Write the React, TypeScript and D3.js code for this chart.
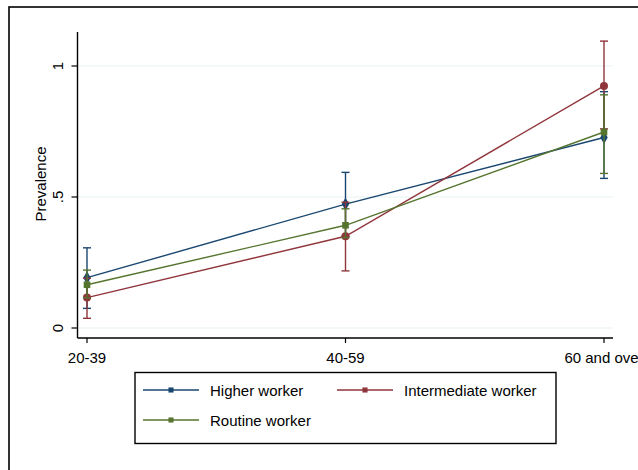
import React from "react";
import * as d3 from "d3";

// Age groups on the x axis
const categories = ["20-39", "40-59", "60 and over"];

// Prevalence estimates with confidence limits, one set per worker class
const higherEst = [0.192, 0.473, 0.727];
const higherLo = [0.075, 0.35, 0.571];
const higherHi = [0.306, 0.594, 0.902];

const intermediateEst = [0.116, 0.35, 0.924];
const intermediateLo = [0.037, 0.218, 0.76];
const intermediateHi = [0.19, 0.48, 1.095];

const routineEst = [0.165, 0.392, 0.748];
const routineLo = [0.115, 0.345, 0.59];
const routineHi = [0.221, 0.455, 0.89];

const yTicks = [0, 0.5, 1];
const yTickLabels = ["0", ".5", "1"];

const seriesNames = ["Higher worker", "Intermediate worker", "Routine worker"];

type Series = {
  name: string;
  est: number[];
  lo: number[];
  hi: number[];
  color: string;
  symbol: d3.SymbolType;
  size: number;
};

const series: Series[] = [
  { name: seriesNames[0], est: higherEst, lo: higherLo, hi: higherHi, color: "#1a476f", symbol: d3.symbolDiamond, size: 48 },
  { name: seriesNames[1], est: intermediateEst, lo: intermediateLo, hi: intermediateHi, color: "#90353b", symbol: d3.symbolCircle, size: 50 },
  { name: seriesNames[2], est: routineEst, lo: routineLo, hi: routineHi, color: "#55752f", symbol: d3.symbolSquare, size: 44 },
];

const W = 638;
const H = 470;
const FONT = "'Liberation Sans', Arial, sans-serif";

export default function App() {
  const x = d3.scalePoint<string>().domain(categories).range([87, 604]);
  const y = d3.scaleLinear().domain([0, 1]).range([328, 66]);

  const axisLeft = 77.5;
  const axisBottom = 338;
  const axisTop = y(1.13);
  const axisRight = 613;

  const line = d3
    .line<number>()
    .x((_, i) => x(categories[i]) as number)
    .y((d) => y(d));

  const capW = 4;

  const legendX = 135;
  const legendY = 372.5;
  const legendW = 421;
  const legendH = 71;
  const legendItems = [
    { s: series[0], lx: 143, ty: 390 },
    { s: series[1], lx: 337, ty: 390 },
    { s: series[2], lx: 143, ty: 420 },
  ];

  return (
    <svg
      width={W}
      height={H}
      style={{ position: "absolute", left: 0, top: 0, background: "#fff" }}
      fontFamily={FONT}
    >
      {/* outer frame */}
      <rect x={9} y={7} width={W + 20} height={H + 20} fill="#fff" stroke="#000" strokeWidth={1.6} />

      {/* gridlines */}
      {yTicks.map((t) => (
        <line key={"g" + t} x1={axisLeft} x2={axisRight} y1={y(t)} y2={y(t)} stroke="#e8f1f3" strokeWidth={1.2} />
      ))}

      {/* axes */}
      <line x1={axisLeft} x2={axisLeft} y1={axisTop} y2={axisBottom} stroke="#000" strokeWidth={1.4} />
      <line x1={axisLeft} x2={axisRight} y1={axisBottom} y2={axisBottom} stroke="#000" strokeWidth={1.4} />

      {yTicks.map((t, i) => (
        <g key={"yt" + t}>
          <line x1={axisLeft - 6} x2={axisLeft} y1={y(t)} y2={y(t)} stroke="#000" strokeWidth={1.2} />
          <text
            transform={`translate(63,${y(t)}) rotate(-90)`}
            textAnchor="middle"
            fontSize={15}
            fill="#000"
          >
            {yTickLabels[i]}
          </text>
        </g>
      ))}

      <text transform={`translate(46,184) rotate(-90)`} textAnchor="middle" fontSize={15} fill="#000">
        Prevalence
      </text>

      {categories.map((c) => (
        <g key={"xt" + c}>
          <line x1={x(c)} x2={x(c)} y1={axisBottom} y2={axisBottom + 5} stroke="#000" strokeWidth={1.2} />
          <text x={x(c)} y={363} textAnchor="middle" fontSize={15} fill="#000">
            {c}
          </text>
        </g>
      ))}

      {/* series: connecting lines, confidence caps and markers */}
      {series.map((s) => (
        <g key={s.name}>
          <path d={line(s.est) || ""} fill="none" stroke={s.color} strokeWidth={1.4} />
          {categories.map((c, i) => {
            const cx = x(c) as number;
            return (
              <g key={c} stroke={s.color} strokeWidth={1.4}>
                <line x1={cx} x2={cx} y1={y(s.lo[i])} y2={y(s.hi[i])} />
                <line x1={cx - capW} x2={cx + capW} y1={y(s.lo[i])} y2={y(s.lo[i])} />
                <line x1={cx - capW} x2={cx + capW} y1={y(s.hi[i])} y2={y(s.hi[i])} />
              </g>
            );
          })}
          {categories.map((c, i) => (
            <path
              key={"m" + c}
              d={d3.symbol().type(s.symbol).size(s.size)() || ""}
              transform={`translate(${x(c)},${y(s.est[i])})`}
              fill={s.color}
            />
          ))}
        </g>
      ))}

      {/* legend */}
      <rect x={legendX} y={legendY} width={legendW} height={legendH} fill="#fff" stroke="#000" strokeWidth={1.4} />
      {legendItems.map(({ s, lx, ty }) => (
        <g key={"l" + s.name}>
          <line x1={lx} x2={lx + 56} y1={ty} y2={ty} stroke={s.color} strokeWidth={1.4} />
          <path
            d={d3.symbol().type(d3.symbolSquare).size(26)() || ""}
            transform={`translate(${lx + 28},${ty})`}
            fill={s.color}
          />
          <text x={lx + 67} y={ty + 5.5} fontSize={15} fill="#000">
            {s.name}
          </text>
        </g>
      ))}
    </svg>
  );
}
